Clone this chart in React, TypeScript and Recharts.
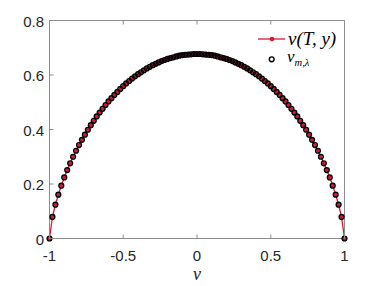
import React from 'react';
import { LineChart, Line, XAxis, YAxis, Legend } from 'recharts';

// v grid (categories)
const vGrid = [
  -1, -0.98, -0.96, -0.94, -0.92, -0.9, -0.88, -0.86, -0.84, -0.82,
  -0.8, -0.78, -0.76, -0.74, -0.72, -0.7, -0.68, -0.66, -0.64, -0.62,
  -0.6, -0.58, -0.56, -0.54, -0.52, -0.5, -0.48, -0.46, -0.44, -0.42,
  -0.4, -0.38, -0.36, -0.34, -0.32, -0.3, -0.28, -0.26, -0.24, -0.22,
  -0.2, -0.18, -0.16, -0.14, -0.12, -0.1, -0.08, -0.06, -0.04, -0.02,
  0,
  0.02, 0.04, 0.06, 0.08, 0.1, 0.12, 0.14, 0.16, 0.18, 0.2,
  0.22, 0.24, 0.26, 0.28, 0.3, 0.32, 0.34, 0.36, 0.38, 0.4,
  0.42, 0.44, 0.46, 0.48, 0.5, 0.52, 0.54, 0.56, 0.58, 0.6,
  0.62, 0.64, 0.66, 0.68, 0.7, 0.72, 0.74, 0.76, 0.78, 0.8,
  0.82, 0.84, 0.86, 0.88, 0.9, 0.92, 0.94, 0.96, 0.98, 1,
];

// v(T, y) — red line
const vTy = [
  0, 0.079, 0.124, 0.161, 0.194, 0.224, 0.251, 0.276, 0.3, 0.322,
  0.343, 0.362, 0.381, 0.399, 0.416, 0.432, 0.448, 0.462, 0.476, 0.49,
  0.503, 0.515, 0.527, 0.538, 0.549, 0.559, 0.569, 0.578, 0.587, 0.595,
  0.603, 0.61, 0.617, 0.624, 0.63, 0.636, 0.641, 0.646, 0.651, 0.655,
  0.659, 0.662, 0.665, 0.668, 0.671, 0.673, 0.674, 0.675, 0.676, 0.677,
  0.677,
  0.677, 0.676, 0.675, 0.674, 0.673, 0.671, 0.668, 0.665, 0.662, 0.659,
  0.655, 0.651, 0.646, 0.641, 0.636, 0.63, 0.624, 0.617, 0.61, 0.603,
  0.595, 0.587, 0.578, 0.569, 0.559, 0.549, 0.538, 0.527, 0.515, 0.503,
  0.49, 0.476, 0.462, 0.448, 0.432, 0.416, 0.399, 0.381, 0.362, 0.343,
  0.322, 0.3, 0.276, 0.251, 0.224, 0.194, 0.161, 0.124, 0.079, 0,
];

// v_{m,lambda} — black open circles
const vM = [
  0, 0.079, 0.124, 0.161, 0.194, 0.224, 0.251, 0.276, 0.3, 0.322,
  0.343, 0.362, 0.381, 0.399, 0.416, 0.432, 0.448, 0.462, 0.476, 0.49,
  0.503, 0.515, 0.527, 0.538, 0.549, 0.559, 0.569, 0.578, 0.587, 0.595,
  0.603, 0.61, 0.617, 0.624, 0.63, 0.636, 0.641, 0.646, 0.651, 0.655,
  0.659, 0.662, 0.665, 0.668, 0.671, 0.673, 0.674, 0.675, 0.676, 0.677,
  0.677,
  0.677, 0.676, 0.675, 0.674, 0.673, 0.671, 0.668, 0.665, 0.662, 0.659,
  0.655, 0.651, 0.646, 0.641, 0.636, 0.63, 0.624, 0.617, 0.61, 0.603,
  0.595, 0.587, 0.578, 0.569, 0.559, 0.549, 0.538, 0.527, 0.515, 0.503,
  0.49, 0.476, 0.462, 0.448, 0.432, 0.416, 0.399, 0.381, 0.362, 0.343,
  0.322, 0.3, 0.276, 0.251, 0.224, 0.194, 0.161, 0.124, 0.079, 0,
];

const xTicks = [-1, -0.5, 0, 0.5, 1];
const xTickLabels = ['-1', '-0.5', '0', '0.5', '1'];
const yTicks = [0, 0.2, 0.4, 0.6, 0.8];
const yTickLabels = ['0', '0.2', '0.4', '0.6', '0.8'];

const data = vGrid.map((v, i) => ({ v, a: vTy[i], b: vM[i] }));

const W = 382;
const H = 286;
const M_TOP = 19.5;
const TOP_H = 1;
const BOTTOM_H = 47.5;
const LEFT_W = 49.5;
const RIGHT_W = 1;
const M_RIGHT = 36.5;
const PLOT_TOP = M_TOP + TOP_H;
const PLOT_BOTTOM = H - BOTTOM_H;
const PLOT_LEFT = LEFT_W;
const PLOT_RIGHT = W - M_RIGHT - RIGHT_W;

const AXIS = '#8c8c8c';
const TEXT = '#262626';
const RED = '#dc143c';
const SANS = '"Liberation Sans", Arial, Helvetica, sans-serif';
const SERIF = '"Liberation Serif", "Times New Roman", serif';
const TL = 4;

const BottomTick = (props: any) => {
  const { x, payload } = props;
  const idx = xTicks.indexOf(payload.value);
  return (
    <g>
      <line x1={x} x2={x} y1={PLOT_BOTTOM} y2={PLOT_BOTTOM - TL} stroke={AXIS} strokeWidth={1} />
      <text x={x} y={PLOT_BOTTOM + 22} textAnchor="middle" fontFamily={SANS} fontSize={15} fill={TEXT}>
        {idx >= 0 ? xTickLabels[idx] : String(payload.value)}
      </text>
    </g>
  );
};

const TopTick = (props: any) => {
  const { x } = props;
  return <line x1={x} x2={x} y1={PLOT_TOP} y2={PLOT_TOP + TL} stroke={AXIS} strokeWidth={1} />;
};

const LeftTick = (props: any) => {
  const { y, payload } = props;
  const idx = yTicks.indexOf(payload.value);
  return (
    <g>
      <line x1={PLOT_LEFT} x2={PLOT_LEFT + TL} y1={y} y2={y} stroke={AXIS} strokeWidth={1} />
      <text x={PLOT_LEFT - 5.5} y={y + 6} textAnchor="end" fontFamily={SANS} fontSize={15} fill={TEXT}>
        {idx >= 0 ? yTickLabels[idx] : String(payload.value)}
      </text>
    </g>
  );
};

const RightTick = (props: any) => {
  const { y } = props;
  return <line x1={PLOT_RIGHT} x2={PLOT_RIGHT - TL} y1={y} y2={y} stroke={AXIS} strokeWidth={1} />;
};

const XLabel = () => (
  <text x={197} y={280} textAnchor="middle" fontFamily={SERIF} fontStyle="italic" fontSize={18} fill={TEXT}>
    v
  </text>
);

const LegendContent = () => (
  <svg width={110} height={45} style={{ display: 'block', overflow: 'visible' }}>
    <line x1={3} x2={30} y1={12} y2={12} stroke={RED} strokeWidth={1.3} />
    <circle cx={17} cy={12} r={2.3} fill={RED} />
    <text x={33} y={18} fontFamily={SERIF} fontStyle="italic" fontSize={19} fill="#000">
      v(T, y)
    </text>
    <circle cx={16.7} cy={32.3} r={2.4} fill="none" stroke="#000" strokeWidth={1.4} />
    <text x={32} y={35} fontFamily={SERIF} fontStyle="italic" fontSize={17} fill="#000">
      v
      <tspan fontSize={10.5} dy={3.5}>m,λ</tspan>
    </text>
  </svg>
);

export default function App() {
  return (
    <div style={{ position: 'absolute', left: 0, top: 0, width: W, height: H, background: '#fff' }}>
      <LineChart
        width={W}
        height={H}
        data={data}
        margin={{ top: M_TOP, right: M_RIGHT, bottom: 0, left: 0 }}
      >
        <XAxis
          xAxisId="b"
          dataKey="v"
          type="number"
          orientation="bottom"
          domain={[-1, 1]}
          ticks={xTicks}
          height={BOTTOM_H}
          axisLine={{ stroke: AXIS, strokeWidth: 1 }}
          tickLine={false}
          tickSize={0}
          tick={<BottomTick />}
          interval={0}
          label={<XLabel />}
        />
        <XAxis
          xAxisId="t"
          dataKey="v"
          type="number"
          orientation="top"
          domain={[-1, 1]}
          ticks={xTicks}
          height={TOP_H}
          axisLine={{ stroke: AXIS, strokeWidth: 1 }}
          tickLine={false}
          tickSize={0}
          tick={<TopTick />}
          interval={0}
        />
        <YAxis
          yAxisId="l"
          type="number"
          orientation="left"
          domain={[0, 0.8]}
          ticks={yTicks}
          width={LEFT_W}
          axisLine={{ stroke: AXIS, strokeWidth: 1 }}
          tickLine={false}
          tickSize={0}
          tick={<LeftTick />}
          interval={0}
        />
        <YAxis
          yAxisId="r"
          type="number"
          orientation="right"
          domain={[0, 0.8]}
          ticks={yTicks}
          width={RIGHT_W}
          axisLine={{ stroke: AXIS, strokeWidth: 1 }}
          tickLine={false}
          tickSize={0}
          tick={<RightTick />}
          interval={0}
        />
        <Line
          xAxisId="b"
          yAxisId="l"
          dataKey="a"
          type="linear"
          stroke={RED}
          strokeWidth={1.3}
          dot={{ r: 1.9, fill: RED, stroke: RED, strokeWidth: 0 }}
          activeDot={false}
          isAnimationActive={false}
        />
        <Line
          xAxisId="b"
          yAxisId="l"
          dataKey="b"
          type="linear"
          stroke="none"
          strokeWidth={0}
          dot={{ r: 2.4, fill: 'none', stroke: '#000', strokeWidth: 1.4 }}
          activeDot={false}
          isAnimationActive={false}
        />
        <Legend
          layout="horizontal"
          verticalAlign="middle"
          align="center"
          content={<LegendContent />}
          wrapperStyle={{ position: 'absolute', left: 255, top: 27, width: 110, height: 45 }}
        />
      </LineChart>
    </div>
  );
}
